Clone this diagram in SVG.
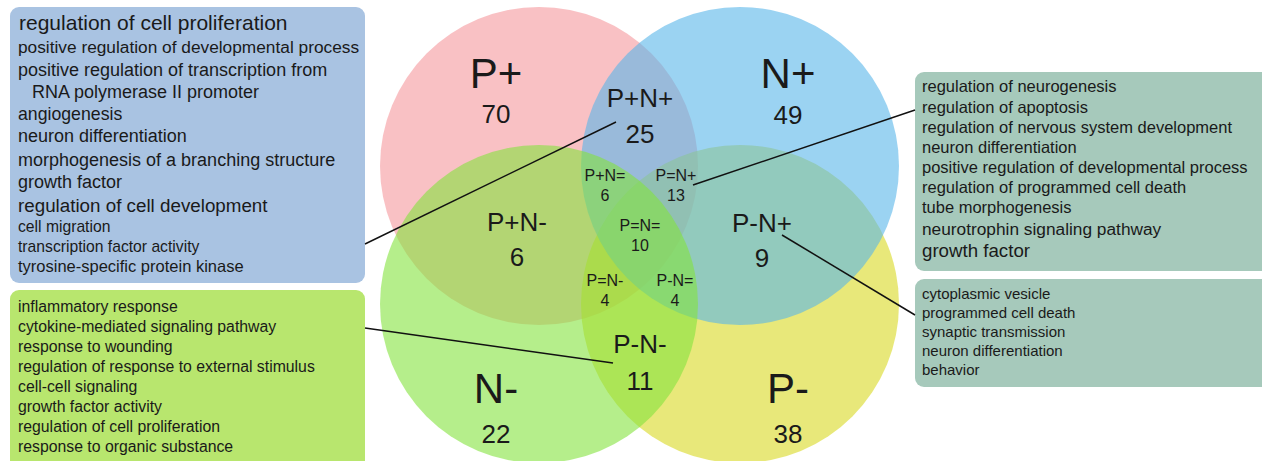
<svg xmlns="http://www.w3.org/2000/svg" width="1262" height="461" viewBox="0 0 1262 461">
<style>
text{font-family:"Liberation Sans",Arial,sans-serif;fill:#1a1a1a}
.c{text-anchor:middle}
.big{font-size:42px}
.mid{font-size:26px}
.num{font-size:26px}
.sm{font-size:16px}
.venn{fill-opacity:0.6;stroke:none}
.conn{stroke:#111;stroke-width:1.5;fill:none}
</style>
<rect width="1262" height="461" fill="#ffffff"/>
<g id="circles">
<circle id="circle-Pplus" class="venn" cx="539" cy="166" r="159" fill="#f5989d"/>
<circle id="circle-Pminus" class="venn" cx="740" cy="304" r="159" fill="#d9d921"/>
<circle id="circle-Nplus" class="venn" cx="740" cy="166" r="159" fill="#58b6e9"/>
<circle id="circle-Nminus" class="venn" cx="539" cy="304" r="159" fill="#84e33e"/>
</g>
<g id="box-PplusNplus">
<rect x="10" y="7" width="355" height="276" rx="9" fill="#a9c3e2"/>
<text x="19" y="30" font-size="21">regulation of cell proliferation</text>
<text x="18" y="53" font-size="17.3">positive regulation of developmental process</text>
<text x="18" y="76" font-size="18">positive regulation of transcription from</text>
<text x="32" y="98" font-size="18">RNA polymerase II promoter</text>
<text x="18" y="120" font-size="17.7">angiogenesis</text>
<text x="18" y="142" font-size="18">neuron differentiation</text>
<text x="18" y="166" font-size="18">morphogenesis of a branching structure</text>
<text x="18" y="188" font-size="18">growth factor</text>
<text x="18" y="212" font-size="18.8">regulation of cell development</text>
<text x="18" y="232" font-size="15.7">cell migration</text>
<text x="18" y="252" font-size="15.7">transcription factor activity</text>
<text x="18" y="272" font-size="16.5">tyrosine-specific protein kinase</text>
</g>
<g id="box-PminusNminus">
<rect x="10" y="290" width="355" height="185" rx="9" fill="#b8e66e"/>
<text x="18" y="312" font-size="15.8">inflammatory response</text>
<text x="18" y="332" font-size="15.8">cytokine-mediated signaling pathway</text>
<text x="18" y="352" font-size="15.8">response to wounding</text>
<text x="18" y="372" font-size="15.8">regulation of response to external stimulus</text>
<text x="18" y="392" font-size="15.8">cell-cell signaling</text>
<text x="18" y="412" font-size="15.8">growth factor activity</text>
<text x="18" y="432" font-size="15.8">regulation of cell proliferation</text>
<text x="18" y="452" font-size="15.8">response to organic substance</text>
</g>
<g id="box-PeqNplus">
<rect x="915" y="72" width="360" height="199" rx="9" fill="#a6c9bb"/>
<text x="922" y="92" font-size="16.5">regulation of neurogenesis</text>
<text x="922" y="113" font-size="16.5">regulation of apoptosis</text>
<text x="922" y="133" font-size="16.5">regulation of nervous system development</text>
<text x="922" y="153" font-size="16.5">neuron differentiation</text>
<text x="922" y="173" font-size="16.5">positive regulation of developmental process</text>
<text x="922" y="193" font-size="16.5">regulation of programmed cell death</text>
<text x="922" y="213" font-size="16.5">tube morphogenesis</text>
<text x="922" y="235" font-size="17.3">neurotrophin signaling pathway</text>
<text x="922" y="257" font-size="18.7">growth factor</text>
</g>
<g id="box-PminusNplus">
<rect x="915" y="279" width="360" height="108" rx="9" fill="#a6c9bb"/>
<text x="922" y="299" font-size="15">cytoplasmic vesicle</text>
<text x="922" y="318" font-size="15">programmed cell death</text>
<text x="922" y="337" font-size="15">synaptic transmission</text>
<text x="922" y="356" font-size="15">neuron differentiation</text>
<text x="922" y="375" font-size="15">behavior</text>
</g>
<g id="connectors">
<line class="conn" x1="365" y1="244" x2="616" y2="122"/>
<line class="conn" x1="365" y1="328" x2="613" y2="363"/>
<line class="conn" x1="693" y1="185" x2="915" y2="110"/>
<line class="conn" x1="782" y1="235" x2="915" y2="315"/>
</g>
<g id="region-Pplus"><text class="c big" x="496" y="88">P+</text><text class="c num" x="496" y="123">70</text></g>
<g id="region-Nplus"><text class="c big" x="788" y="88">N+</text><text class="c num" x="788" y="124">49</text></g>
<g id="region-PplusNplus"><text class="c mid" x="640" y="107">P+N+</text><text class="c num" x="640" y="143">25</text></g>
<g id="region-PplusNeq"><text class="c sm" x="605" y="181">P+N=</text><text class="c sm" x="605" y="201">6</text></g>
<g id="region-PeqNplus"><text class="c sm" x="676" y="181">P=N+</text><text class="c sm" x="676" y="201">13</text></g>
<g id="region-PplusNminus"><text class="c mid" x="517" y="231">P+N-</text><text class="c num" x="517" y="266">6</text></g>
<g id="region-PeqNeq"><text class="c sm" x="640" y="231">P=N=</text><text class="c sm" x="640" y="251">10</text></g>
<g id="region-PminusNplus"><text class="c mid" x="762" y="232">P-N+</text><text class="c num" x="762" y="267">9</text></g>
<g id="region-PeqNminus"><text class="c sm" x="605" y="286">P=N-</text><text class="c sm" x="605" y="306">4</text></g>
<g id="region-PminusNeq"><text class="c sm" x="675" y="286">P-N=</text><text class="c sm" x="675" y="306">4</text></g>
<g id="region-PminusNminus"><text class="c mid" x="640" y="353">P-N-</text><text class="c num" x="640" y="390">11</text></g>
<g id="region-Nminus"><text class="c big" x="496" y="403">N-</text><text class="c num" x="496" y="443">22</text></g>
<g id="region-Pminus"><text class="c big" x="788" y="403">P-</text><text class="c num" x="788" y="443">38</text></g>
</svg>
